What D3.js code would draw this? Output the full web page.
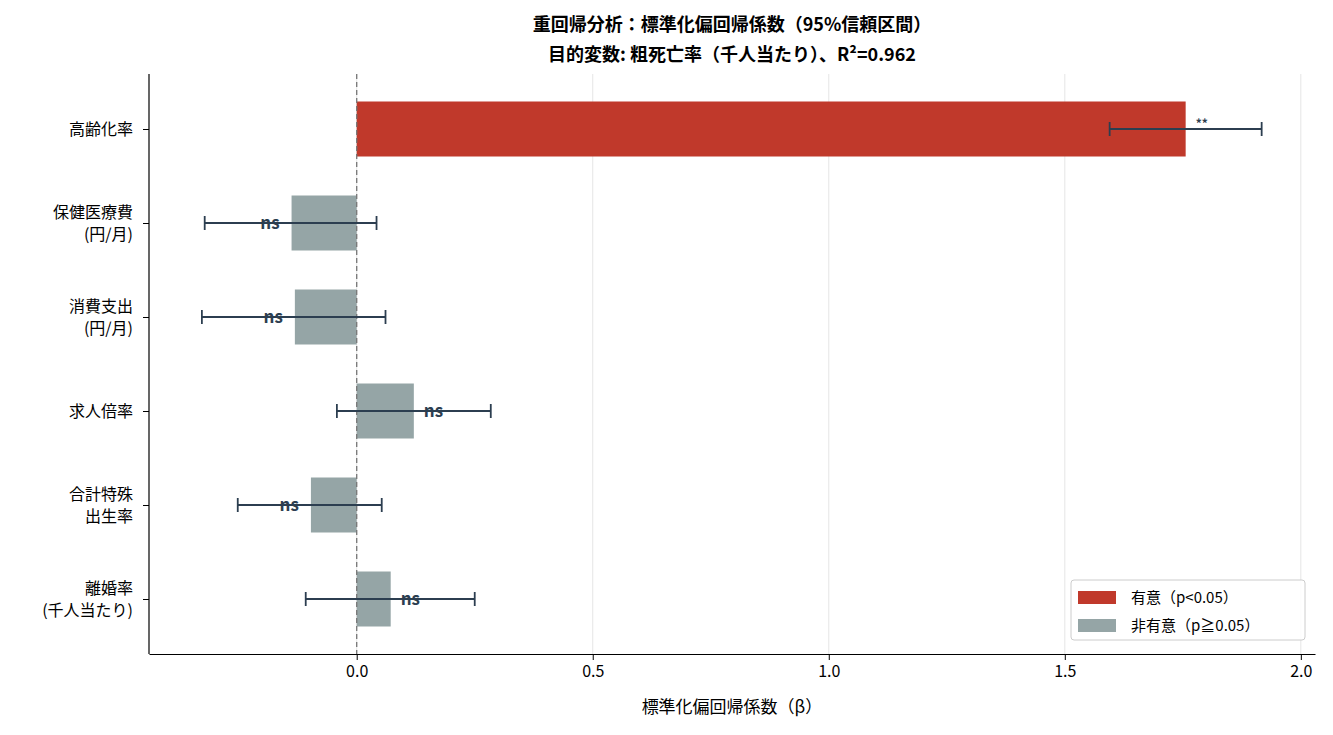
<!DOCTYPE html>
<html><head><meta charset="utf-8">
<script src="https://cdn.jsdelivr.net/npm/d3@7"></script>
<style>body{margin:0;background:#fff;font-family:"Noto Sans CJK JP","Noto Sans",sans-serif;}</style>
</head><body><svg id="c" width="1333" height="735"></svg>
<script>
const categories = ["高齢化率","保健医療費\n(円/月)","消費支出\n(円/月)","求人倍率","合計特殊\n出生率","離婚率\n(千人当たり)"];
const beta = [1.756,-0.138,-0.131,0.121,-0.097,0.072];
const ciLow = [1.595,-0.322,-0.328,-0.042,-0.252,-0.108];
const ciHigh = [1.917,0.042,0.061,0.284,0.053,0.250];
const sigLabel = ["**","ns","ns","ns","ns","ns"];
const significant = [true,false,false,false,false,false];
const xTicks = [0,0.5,1.0,1.5,2.0];

const svg = d3.select("#c");
const L=149,R=1315,T=74,B=654;
const x = d3.scaleLinear().domain([-0.44,2.03]).range([L,R]);
const y = d3.scalePoint().domain(categories).range([T+55,B-55]);
const bh=55;
const font='"Noto Sans CJK JP","Noto Sans",sans-serif';

svg.append("g").selectAll("line").data(xTicks).join("line")
 .attr("x1",d=>x(d)).attr("x2",d=>x(d)).attr("y1",T).attr("y2",B)
 .attr("stroke","#e5e5e5").attr("stroke-width",1);

svg.append("g").selectAll("rect").data(categories).join("rect")
 .attr("x",(d,i)=>x(Math.min(0,beta[i]))).attr("width",(d,i)=>Math.abs(x(beta[i])-x(0)))
 .attr("y",d=>y(d)-bh/2).attr("height",bh)
 .attr("fill",(d,i)=>significant[i]?"#c0392b":"#95a5a6");

svg.append("line").attr("x1",x(0)).attr("x2",x(0)).attr("y1",T).attr("y2",B)
 .attr("stroke","#777").attr("stroke-dasharray","5,3").attr("stroke-width",1.3);

const eb=svg.append("g").attr("stroke","#2c3e50").attr("stroke-width",1.8);
categories.forEach((c,i)=>{
 const yy=y(c);
 eb.append("line").attr("x1",x(ciLow[i])).attr("x2",x(ciHigh[i])).attr("y1",yy).attr("y2",yy);
 eb.append("line").attr("x1",x(ciLow[i])).attr("x2",x(ciLow[i])).attr("y1",yy-7).attr("y2",yy+7);
 eb.append("line").attr("x1",x(ciHigh[i])).attr("x2",x(ciHigh[i])).attr("y1",yy-7).attr("y2",yy+7);
});

svg.append("g").selectAll("text").data(categories).join("text")
 .attr("x",(d,i)=>beta[i]<0?x(beta[i])-12:x(beta[i])+10)
 .attr("y",(d,i)=>significant[i]?y(d)-1:y(d)+6)
 .attr("text-anchor",(d,i)=>beta[i]<0?"end":"start")
 .attr("font-family",font).attr("font-weight","bold")
 .attr("font-size",(d,i)=>significant[i]?12:17).attr("fill","#2c3e50")
 .text((d,i)=>sigLabel[i]);

// axes
const xa=svg.append("g").attr("transform",`translate(0,${B})`)
 .call(d3.axisBottom(x).tickValues(xTicks).tickFormat(d3.format(".1f")).tickSizeOuter(0));
xa.selectAll("text").attr("font-size",16).attr("font-family",font).attr("fill","#000").attr("dy","0.9em");
xa.select(".domain").attr("stroke","#000").attr("stroke-width",1.2);
const ya=svg.append("g").attr("transform",`translate(${L},0)`)
 .call(d3.axisLeft(y).tickSizeOuter(0).tickFormat(""));
ya.select(".domain").attr("d",`M0,${T}V${B}`).attr("stroke","#000").attr("stroke-width",1.2);
categories.forEach(c=>{
 const lines=c.split("\n");
 const t=svg.append("text").attr("x",L-16).attr("text-anchor","end")
  .attr("font-family",font).attr("font-size",16).attr("fill","#000");
 lines.forEach((s,k)=>t.append("tspan").attr("x",L-16)
  .attr("y",y(c)+6+(k-(lines.length-1)/2)*22).text(s));
});

svg.append("text").attr("x",(L+R)/2).attr("y",713).attr("text-anchor","middle")
 .attr("font-family",font).attr("font-size",17).text("標準化偏回帰係数（β）");
svg.append("text").attr("x",(L+R)/2).attr("y",31).attr("text-anchor","middle")
 .attr("font-family",font).attr("font-size",18).attr("font-weight","bold").text("重回帰分析：標準化偏回帰係数（95%信頼区間）");
svg.append("text").attr("x",(L+R)/2).attr("y",61).attr("text-anchor","middle")
 .attr("font-family",font).attr("font-size",18).attr("font-weight","bold").text("目的変数: 粗死亡率（千人当たり）、R²=0.962");

const lg=svg.append("g");
lg.append("rect").attr("x",1071).attr("y",580).attr("width",234).attr("height",60).attr("rx",3)
 .attr("fill","#fff").attr("fill-opacity",0.85).attr("stroke","#ccc");
[["有意（p<0.05）","#c0392b"],["非有意（p≧0.05）","#95a5a6"]].forEach((d,i)=>{
 lg.append("rect").attr("x",1078).attr("y",591+i*28).attr("width",38).attr("height",13).attr("fill",d[1]);
 lg.append("text").attr("x",1131).attr("y",603+i*28).attr("font-family",font).attr("font-size",15).text(d[0]);
});
</script></body></html>
